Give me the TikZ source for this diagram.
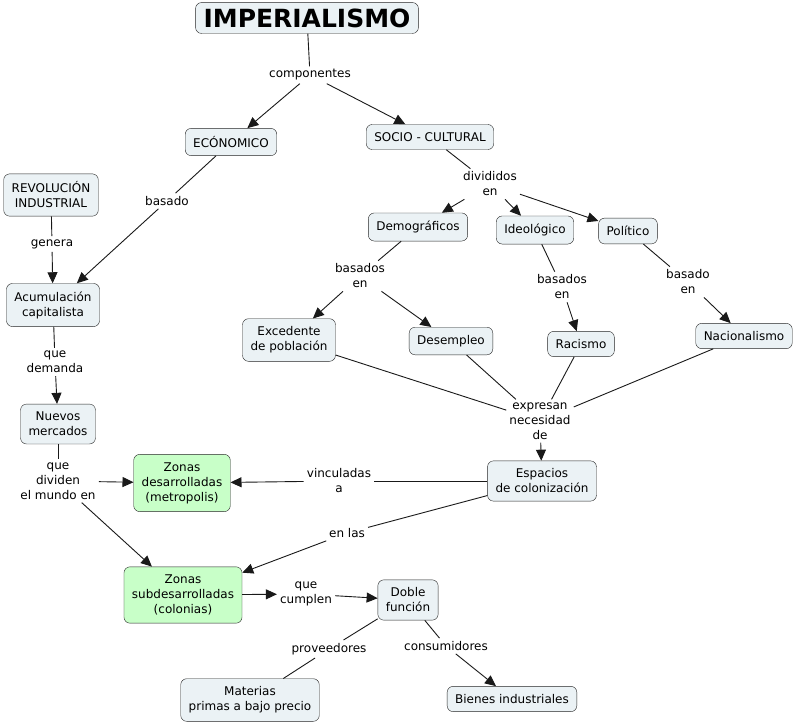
\documentclass[tikz,border=0pt]{standalone}
\usepackage{fontspec}
\setmainfont{DejaVu Sans}
\usetikzlibrary{arrows.meta}

\definecolor{conceptfill}{HTML}{EBF2F5}
\definecolor{zonefill}{HTML}{C8FFC8}

\tikzset{
  concept/.style={draw=black!85, fill=conceptfill, rounded corners=6pt, align=center,
    inner xsep=8pt, inner ysep=8pt, font=\fontsize{12}{15}\selectfont},
  zone/.style={concept, fill=zonefill},
  linkphrase/.style={align=center, inner sep=3pt, font=\fontsize{12}{15}\selectfont},
  link/.style={draw=black!90, line width=0.9pt},
  arrowlink/.style={link, -{Triangle[length=11pt,width=10pt]}},
}

\begin{document}
\begin{tikzpicture}[x=1pt, y=-1pt]
\useasboundingbox[fill=white] (0,0) rectangle (795,724);

% concepts
\node[concept, font=\fontsize{25}{30}\selectfont\bfseries, inner xsep=8pt, inner ysep=6pt] (imperialismo) at (307,18) {IMPERIALISMO};
\node[concept] (economico) at (231,142) {ECÓNOMICO};
\node[concept] (sociocultural) at (430,137) {SOCIO - CULTURAL};
\node[concept] (revolucion) at (51,195) {REVOLUCIÓN\\INDUSTRIAL};
\node[concept] (acumulacion) at (53,305) {Acumulación\\capitalista};
\node[concept] (nuevos) at (58,424) {Nuevos\\mercados};
\node[zone] (zdesarrolladas) at (182,483) {Zonas\\desarrolladas\\(metropolis)};
\node[zone] (zsubdesarrolladas) at (183,595) {Zonas\\subdesarrolladas\\(colonias)};
\node[concept] (doble) at (408,600) {Doble\\función};
\node[concept] (materias) at (250,700) {Materias\\primas a bajo precio};
\node[concept] (bienes) at (512,699) {Bienes industriales};
\node[concept] (espacios) at (542,481) {Espacios\\de colonización};
\node[concept] (demograficos) at (418,227) {Demográficos};
\node[concept] (ideologico) at (535,230) {Ideológico};
\node[concept] (politico) at (628,231) {Político};
\node[concept] (excedente) at (289,340) {Excedente\\de población};
\node[concept] (desempleo) at (451,341) {Desempleo};
\node[concept] (racismo) at (581,344) {Racismo};
\node[concept] (nacionalismo) at (744,336) {Nacionalismo};

% linking phrases
\node[linkphrase] (componentes) at (310,75) {componentes};
\node[linkphrase] (basado) at (167,201) {basado};
\node[linkphrase] (genera) at (52,244) {genera};
\node[linkphrase] (demanda) at (55,362) {que\\demanda};
\node[linkphrase] (divididos) at (490,184) {divididos\\en};
\node[linkphrase] (basadosdem) at (360,276) {basados\\en};
\node[linkphrase] (basadosideo) at (562,287) {basados\\en};
\node[linkphrase] (basadopol) at (688,282) {basado\\en};
\node[linkphrase] (expresan) at (540,421) {expresan\\necesidad\\de};
\node[linkphrase] (dividen) at (58,481) {que\\dividen\\el mundo en};
\node[linkphrase] (vinculadas) at (339,481) {vinculadas\\a};
\node[linkphrase] (enlas) at (347,533) {en las};
\node[linkphrase] (cumplen) at (306,594) {que\\cumplen};
\node[linkphrase] (proveedores) at (329,649) {proveedores};
\node[linkphrase] (consumidores) at (446,646) {consumidores};

% connectors
\draw[link] (imperialismo) -- (componentes);
\draw[arrowlink] (componentes) -- (economico);
\draw[arrowlink] (componentes) -- (sociocultural);
\draw[link] (economico) -- (basado);
\draw[arrowlink] (basado) -- (acumulacion);
\draw[link] (revolucion) -- (genera);
\draw[arrowlink] (genera) -- (acumulacion);
\draw[link] (acumulacion) -- (demanda);
\draw[arrowlink] (demanda) -- (nuevos);
\draw[link] (nuevos) -- (dividen);
\draw[arrowlink] (dividen) -- (zdesarrolladas);
\draw[arrowlink] (dividen) -- (zsubdesarrolladas);
\draw[link] (sociocultural) -- (divididos);
\draw[arrowlink] (divididos) -- (demograficos);
\draw[arrowlink] (divididos) -- (ideologico);
\draw[arrowlink] (divididos) -- (politico);
\draw[link] (demograficos) -- (basadosdem);
\draw[arrowlink] (basadosdem) -- (excedente);
\draw[arrowlink] (basadosdem) -- (desempleo);
\draw[link] (ideologico) -- (basadosideo);
\draw[arrowlink] (basadosideo) -- (racismo);
\draw[link] (politico) -- (basadopol);
\draw[arrowlink] (basadopol) -- (nacionalismo);
\draw[link] (excedente) -- (expresan);
\draw[link] (desempleo) -- (expresan);
\draw[link] (racismo) -- (expresan);
\draw[link] (nacionalismo) -- (expresan);
\draw[arrowlink] (expresan) -- (espacios);
\draw[link] (espacios) -- (vinculadas);
\draw[arrowlink] (vinculadas) -- (zdesarrolladas);
\draw[link] (espacios) -- (enlas);
\draw[arrowlink] (enlas) -- (zsubdesarrolladas);
\draw[arrowlink] (zsubdesarrolladas) -- (cumplen);
\draw[arrowlink] (cumplen) -- (doble);
\draw[link] (doble) -- (proveedores);
\draw[link] (proveedores) -- (materias);
\draw[link] (doble) -- (consumidores);
\draw[arrowlink] (consumidores) -- (bienes);
\end{tikzpicture}
\end{document}
